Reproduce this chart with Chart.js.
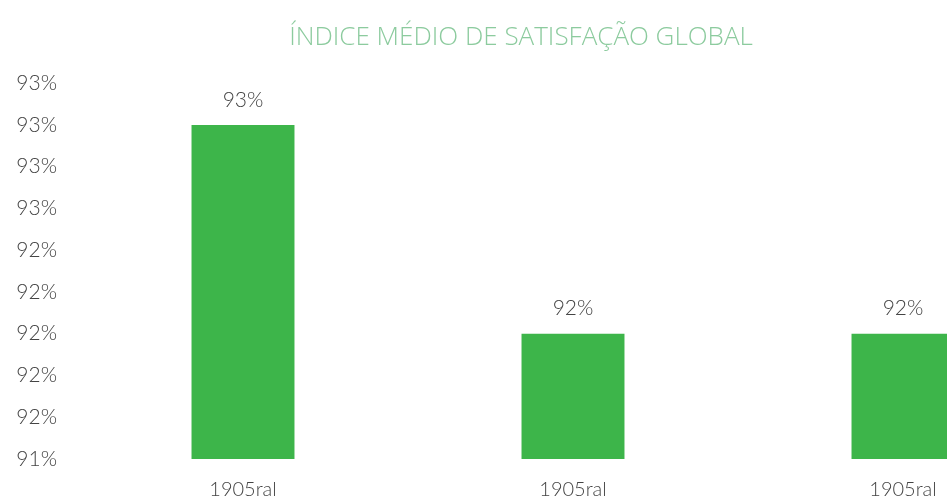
<!DOCTYPE html>
<html>
<head>
<meta charset="utf-8">
<script src="https://cdn.jsdelivr.net/npm/chart.js@4/dist/chart.umd.min.js"></script>
<style>
  html, body { margin: 0; padding: 0; background: #ffffff; overflow: hidden; width: 947px; height: 502px; }
  #wrap { position: absolute; left: -26px; top: 0; width: 1094px; height: 502px; }
</style>
</head>
<body>
<div id="wrap"><canvas id="c" width="1094" height="502"></canvas></div>
<script>
// ---- data ----
const titleText = 'ÍNDICE MÉDIO DE SATISFAÇÃO GLOBAL';
const categories = ['1905ral', '1905ral', '1905ral'];
const values = [93.0, 92.0, 92.0];
const yMin = 91.4;
const yMax = 93.2;
const yStep = 0.2;

const pct = v => Math.round(Math.round(v * 100) / 100) + '%';

const barLabels = {
  id: 'barLabels',
  afterDatasetsDraw(chart) {
    const ctx = chart.ctx;
    const meta = chart.getDatasetMeta(0);
    ctx.save();
    ctx.font = '300 21px Lato';
    ctx.fillStyle = '#444444';
    ctx.textAlign = 'center';
    ctx.textBaseline = 'middle';
    meta.data.forEach((el, i) => {
      ctx.fillText(pct(chart.data.datasets[0].data[i]), el.x, el.y - 25);
    });
    ctx.restore();
  }
};

new Chart(document.getElementById('c'), {
  type: 'bar',
  data: {
    labels: categories,
    datasets: [{
      data: values,
      backgroundColor: '#3db54a',
      borderWidth: 0,
      barPercentage: 0.312,
      categoryPercentage: 1.0
    }]
  },
  options: {
    responsive: false,
    animation: false,
    layout: { padding: { left: 0, right: 0, top: 0, bottom: 0 } },
    plugins: {
      legend: { display: false },
      tooltip: { enabled: false },
      title: {
        display: true,
        text: titleText,
        color: '#8ccb9e',
        font: { family: 'Open Sans', size: 26, weight: '300', lineHeight: 1.2 },
        padding: { top: 22, bottom: 30 }
      }
    },
    scales: {
      x: {
        grid: { display: false, drawTicks: false },
        border: { display: false },
        afterFit(scale) { scale.height = 43; },
        ticks: {
          color: '#444444',
          font: { family: 'Lato', size: 20, weight: '300', lineHeight: 1.2 },
          padding: 19,
          maxRotation: 0
        }
      },
      y: {
        min: yMin,
        max: yMax,
        grid: { display: false, drawTicks: false },
        border: { display: false },
        afterFit(scale) { scale.width = 104; },
        ticks: {
          stepSize: yStep,
          color: '#444444',
          font: { family: 'Lato', size: 21, weight: '300' },
          padding: 21,
          callback: v => pct(v)
        }
      }
    }
  },
  plugins: [barLabels]
});
</script>
</body>
</html>
